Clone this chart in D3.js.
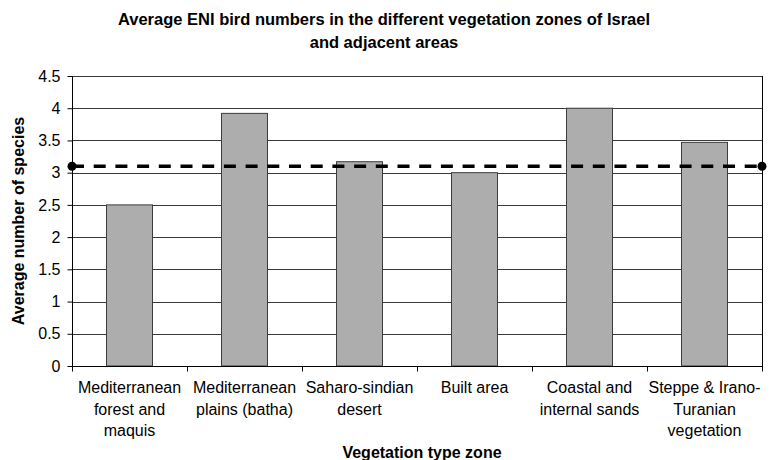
<!DOCTYPE html>
<html><head><meta charset="utf-8">
<script src="https://cdn.jsdelivr.net/npm/d3@7"></script>
<style>body{margin:0;background:#fff;} svg{display:block;} text{font-family:"Liberation Sans",Arial,sans-serif;fill:#000;}</style>
</head><body>
<svg id="c" width="776" height="460"></svg>
<script>
const categories = [
  ["Mediterranean","forest and","maquis"],
  ["Mediterranean","plains (batha)"],
  ["Saharo-sindian","desert"],
  ["Built area"],
  ["Coastal and","internal sands"],
  ["Steppe & Irano-","Turanian","vegetation"]
];
const values = [2.5, 3.92, 3.17, 3.0, 4.0, 3.47];
const averageLine = 3.1;
const yTicks = [0,0.5,1,1.5,2,2.5,3,3.5,4,4.5];
const titleLines = ["Average ENI bird numbers in the different vegetation zones of Israel","and adjacent areas"];
const xTitle = "Vegetation type zone";
const yTitle = "Average number of species";

const svg = d3.select("#c");
const L=72, R=762, T=76, B=366;
const x = d3.scaleBand().domain(d3.range(categories.length)).range([L,R]).paddingInner(0.6).paddingOuter(0.3);
const xb = d3.scaleBand().domain(d3.range(categories.length)).range([L,R]);
const y = d3.scaleLinear().domain([0,4.5]).range([B,T]);

// gridlines
svg.append("g").selectAll("line").data(yTicks.filter(d=>d>0)).join("line")
  .attr("x1",L).attr("x2",R).attr("y1",d=>Math.round(y(d))+0.5).attr("y2",d=>Math.round(y(d))+0.5)
  .attr("stroke","#3a3a3a").attr("stroke-width",1);
// right border
svg.append("line").attr("x1",R+0.5).attr("x2",R+0.5).attr("y1",y(4.5)).attr("y2",B).attr("stroke","#000");

// bars
svg.append("g").selectAll("rect").data(values).join("rect")
  .attr("x",(d,i)=>x(i)).attr("width",x.bandwidth())
  .attr("y",d=>y(d)).attr("height",d=>B-y(d))
  .attr("fill","#adadad").attr("stroke","#3c3c3c").attr("stroke-width",1);

// y axis
const ya = svg.append("g").attr("transform",`translate(${L+0.5},0)`)
  .call(d3.axisLeft(y).tickValues(yTicks).tickSize(5).tickPadding(7).tickFormat(d3.format("")));
ya.select(".domain").attr("stroke","#000").attr("d",`M0,${T}V${B}`);
ya.selectAll(".tick line").attr("stroke","#000");
ya.selectAll("text").style("font-size","16px").attr("fill","#000");

// x axis: ticks at band boundaries
const xa = svg.append("g").attr("transform",`translate(0,${B+0.5})`);
xa.append("line").attr("x1",L).attr("x2",R+1).attr("stroke","#000");
xa.selectAll("line.t").data(d3.range(categories.length+1)).join("line").attr("class","t")
  .attr("x1",i=>i<categories.length?xb(i)+0.5:R+0.5).attr("x2",i=>i<categories.length?xb(i)+0.5:R+0.5)
  .attr("y1",0).attr("y2",5).attr("stroke","#000");
const lab = svg.append("g").selectAll("text").data(categories).join("text")
  .attr("text-anchor","middle").style("font-size","16px")
  .attr("x",(d,i)=>xb(i)+xb.bandwidth()/2).attr("y",393);
lab.selectAll("tspan").data(d=>d).join("tspan")
  .attr("x",function(){return d3.select(this.parentNode).attr("x");})
  .attr("dy",(d,i)=>i===0?0:21.5).text(d=>d);

// average dashed line
svg.append("line").attr("x1",L).attr("x2",R).attr("y1",y(averageLine)).attr("y2",y(averageLine))
  .attr("stroke","#000").attr("stroke-width",3.5).attr("stroke-dasharray","12,9.7");
svg.append("g").selectAll("circle").data([L,R]).join("circle")
  .attr("cx",d=>d).attr("cy",y(averageLine)).attr("r",4.5).attr("fill","#000");

// titles
svg.append("g").selectAll("text").data(titleLines).join("text")
  .attr("x",(L+R)/2 - 33).attr("y",(d,i)=>25+i*23).attr("text-anchor","middle")
  .style("font-size","16.5px").style("font-weight","bold").text(d=>d);
svg.append("text").attr("x",(L+R)/2+5).attr("y",458).attr("text-anchor","middle")
  .style("font-size","16px").style("font-weight","bold").text(xTitle);
svg.append("text").attr("transform",`translate(24,${(T+B)/2}) rotate(-90)`).attr("text-anchor","middle")
  .style("font-size","16px").style("font-weight","bold").text(yTitle);
</script>
</body></html>
